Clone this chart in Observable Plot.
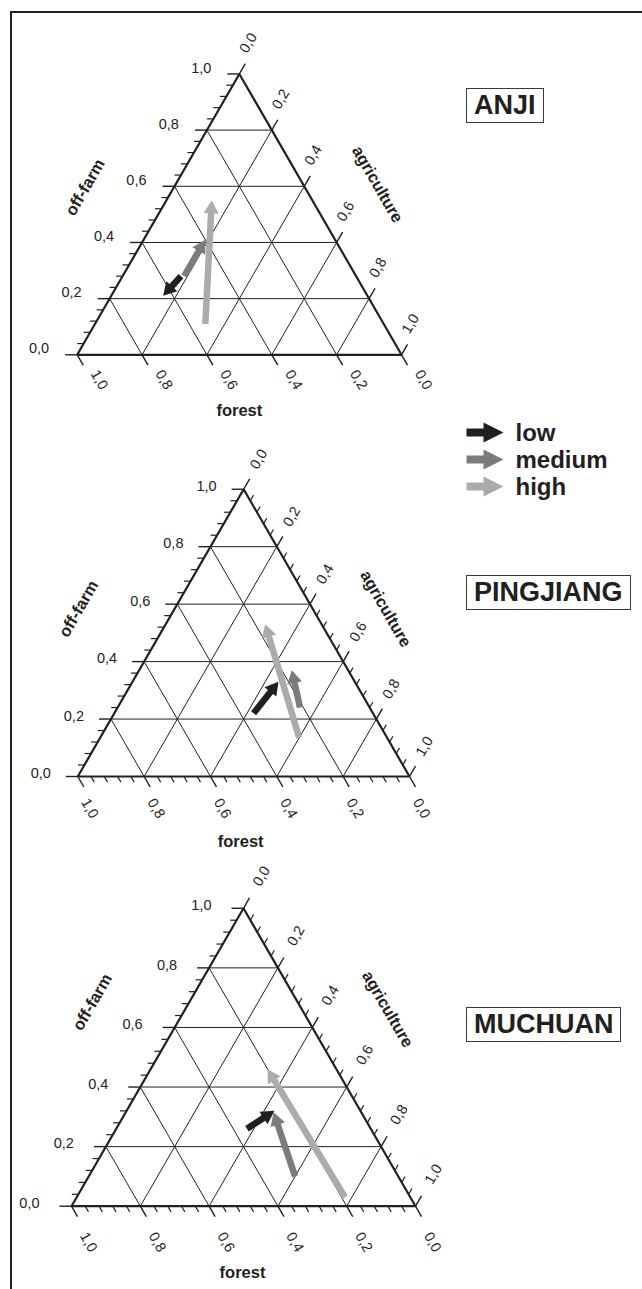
<!DOCTYPE html>
<html><head><meta charset="utf-8">
<script src="https://cdn.jsdelivr.net/npm/d3@7"></script>
<script src="https://cdn.jsdelivr.net/npm/@observablehq/plot@0.6"></script>
<style>
html,body{margin:0;padding:0;background:#fff;overflow:hidden;}
#page{position:relative;width:642px;height:1289px;overflow:hidden;font-family:"Liberation Sans",Arial,sans-serif;color:#231f20;}
.frame-top{position:absolute;left:10px;top:11px;width:632px;height:2px;background:#231f20;}
.frame-left{position:absolute;left:10px;top:11px;width:2px;height:1278px;background:#231f20;}
.site{position:absolute;border:1.5px solid #3a3a3a;font-weight:bold;font-size:27px;line-height:33px;padding:0 7px;color:#231f20;white-space:nowrap;}
.abs{position:absolute;}
</style></head>
<body><div id="page"><div class="frame-top"></div><div class="frame-left"></div></div>
<script>
// ---------- data ----------
const sites = ["ANJI", "PINGJIANG", "MUCHUAN"];
const levels = ["low", "medium", "high"];
const levelColors = ["#231f20", "#7b7b7b", "#ababab"];
const axisNames = ["off-farm", "forest", "agriculture"];
const gridValues = [0.2, 0.4, 0.6, 0.8];
const majorTicks = [0, 0.2, 0.4, 0.6, 0.8, 1.0];
const majorLabels = ["0,0", "0,2", "0,4", "0,6", "0,8", "1,0"];
const minorTicks = [0.04, 0.08, 0.12, 0.16, 0.24, 0.28, 0.32, 0.36, 0.44, 0.48,
                    0.52, 0.56, 0.64, 0.68, 0.72, 0.76, 0.84, 0.88, 0.92, 0.96];

// arrows (start -> end composition of each income group)
const arrowSite  = ["ANJI", "ANJI", "ANJI", "PINGJIANG", "PINGJIANG", "PINGJIANG", "MUCHUAN", "MUCHUAN", "MUCHUAN"];
const arrowLevel = ["low", "medium", "high", "low", "medium", "high", "low", "medium", "high"];
const offFarmStart     = [0.28, 0.28, 0.11, 0.22, 0.24, 0.135, 0.26, 0.10, 0.03];
const forestStart      = [0.54, 0.53, 0.55, 0.36, 0.21, 0.265, 0.36, 0.30, 0.19];
const agricultureStart = [0.18, 0.19, 0.34, 0.42, 0.55, 0.60, 0.38, 0.60, 0.78];
const offFarmEnd       = [0.21, 0.41, 0.55, 0.33, 0.37, 0.53, 0.32, 0.315, 0.46];
const forestEnd        = [0.63, 0.40, 0.31, 0.23, 0.17, 0.17, 0.25, 0.255, 0.20];
const agricultureEnd   = [0.16, 0.19, 0.14, 0.44, 0.46, 0.30, 0.43, 0.43, 0.34];

// ---------- layout ----------
const FONT = '"Liberation Sans", Arial, sans-serif';
const INK = "#231f20";
const layout = [
  {site: "ANJI", top: 0, h: 420, L: 76.7, R: 401, B: 354.3,
   minor: {left: true, bottom: false, right: false},
   leftLab: [-28, -6], bottomLab: [22, 25], rightLab: [9, -31],
   tOff: [-73, -27], tAgr: [57, -30], tFor: [0, 56], boxTop: 88},
  {site: "PINGJIANG", top: 420, h: 440, L: 77.3, R: 409, B: 776,
   minor: {left: true, bottom: true, right: true},
   leftLab: [-27, -3], bottomLab: [12, 32], rightLab: [15, -30],
   tOff: [-82, -24], tAgr: [59, -24], tFor: [-3, 65], boxTop: 575},
  {site: "MUCHUAN", top: 860, h: 429, L: 71, R: 415, B: 1205.7,
   minor: {left: true, bottom: true, right: true},
   leftLab: [-32, -3], bottomLab: [17, 36], rightLab: [18, -32],
   tOff: [-65, -55], tAgr: [58, -48], tFor: [-1, 67], boxTop: 1007}
];

const arrows = arrowSite.map((site, i) => ({
  site, level: arrowLevel[i],
  o0: offFarmStart[i], f0: forestStart[i], a0: agricultureStart[i],
  o1: offFarmEnd[i], f1: forestEnd[i], a1: agricultureEnd[i]
}));

const lineShape = {draw(ctx, l) { ctx.moveTo(0, 0); ctx.lineTo(0, -l); }};
const arrowShape = (shaft, headW, headL) => ({
  draw(ctx, l) {
    const s = shaft / 2, h = headW / 2, b = -(l - headL);
    ctx.moveTo(-s, 0); ctx.lineTo(-s, b); ctx.lineTo(-h, b); ctx.lineTo(0, -l);
    ctx.lineTo(h, b); ctx.lineTo(s, b); ctx.lineTo(s, 0); ctx.closePath();
  }
});

// ternary (off-farm o, agriculture a) -> cartesian (side 1, y = o)
const pt = (o, a) => ({x: a + o / 2, y: o});

function ternaryPanel(cfg) {
  const W = cfg.R - cfg.L;
  const Hpx = W * Math.sqrt(3) / 2;
  const base = cfg.B - cfg.top;

  const grid = [];
  for (const v of gridValues) {
    grid.push({p1: pt(v, 0), p2: pt(v, 1 - v)});       // off-farm = v
    grid.push({p1: pt(0, 1 - v), p2: pt(1 - v, 0)});   // forest = v
    grid.push({p1: pt(0, v), p2: pt(1 - v, v)});       // agriculture = v
  }
  const outline = [pt(0, 0.5), pt(0, 1), pt(1, 0), pt(0, 0), pt(0, 0.5)];

  const leftT = vals => vals.map(v => ({...pt(v, 0), rot: -90}));
  const bottomT = vals => vals.map(v => ({...pt(0, 1 - v), rot: 150}));
  const rightT = vals => vals.map(v => ({...pt(1 - v, v), rot: 30}));
  const majors = [...leftT(majorTicks), ...bottomT(majorTicks), ...rightT(majorTicks)];
  const minors = [
    ...(cfg.minor.left ? leftT(minorTicks) : []),
    ...(cfg.minor.bottom ? bottomT(minorTicks) : []),
    ...(cfg.minor.right ? rightT(minorTicks) : [])
  ];

  const lab = (f) => majorTicks.map((v, i) => ({...f(v), label: majorLabels[i]}));
  const leftLabels = lab(v => pt(v, 0));
  const bottomLabels = lab(v => pt(0, 1 - v));
  const rightLabels = lab(v => pt(1 - v, v));

  const arr = arrows.filter(d => d.site === cfg.site).map(d => {
    const s = pt(d.o0, d.a0), e = pt(d.o1, d.a1);
    const dx = (e.x - s.x) * W, dy = -(e.y - s.y) * Hpx;
    return {...s, level: d.level, len: Math.hypot(dx, dy), angle: Math.atan2(dx, -dy) * 180 / Math.PI};
  });

  const titles = [
    {...pt(0.5, 0), text: axisNames[0], rot: -60, d: cfg.tOff},
    {...pt(0, 0.5), text: axisNames[1], rot: 0, d: cfg.tFor},
    {...pt(0.5, 0.5), text: axisNames[2], rot: 60, d: cfg.tAgr}
  ];

  return Plot.plot({
    width: 642, height: cfg.h, margin: 0,
    style: {background: "transparent", fontFamily: FONT, color: INK, overflow: "visible"},
    x: {domain: [0, 1], range: [cfg.L, cfg.R], axis: null},
    y: {domain: [0, 1], range: [base, base - Hpx], axis: null},
    length: {type: "identity"},
    color: {domain: levels, range: levelColors},
    marks: [
      Plot.link(grid, {x1: d => d.p1.x, y1: d => d.p1.y, x2: d => d.p2.x, y2: d => d.p2.y, stroke: INK, strokeWidth: 1}),
      Plot.vector(majors, {x: "x", y: "y", rotate: "rot", length: 12, anchor: "start", shape: lineShape, stroke: INK, strokeWidth: 1.4, strokeLinecap: "butt"}),
      Plot.vector(minors, {x: "x", y: "y", rotate: "rot", length: 6.5, anchor: "start", shape: lineShape, stroke: INK, strokeWidth: 1.2, strokeLinecap: "butt"}),
      Plot.line(outline, {x: "x", y: "y", stroke: INK, strokeWidth: 2.2, strokeLinejoin: "miter"}),
      Plot.text(leftLabels, {x: "x", y: "y", text: "label", textAnchor: "end", dx: cfg.leftLab[0], dy: cfg.leftLab[1], fontSize: 14.5, fill: INK}),
      Plot.text(bottomLabels, {x: "x", y: "y", text: "label", rotate: 60, dx: cfg.bottomLab[0], dy: cfg.bottomLab[1], fontSize: 14.5, fill: INK}),
      Plot.text(rightLabels, {x: "x", y: "y", text: "label", rotate: -60, dx: cfg.rightLab[0], dy: cfg.rightLab[1], fontSize: 14.5, fill: INK}),
      ...titles.map(t => Plot.text([t], {x: "x", y: "y", text: "text", rotate: t.rot, dx: t.d[0], dy: t.d[1], fontSize: 16.5, fontWeight: "bold", fill: INK})),
      Plot.vector(arr, {x: "x", y: "y", length: "len", rotate: "angle", anchor: "start", shape: arrowShape(6.5, 15, 13), fill: "level", stroke: "none"})
    ]
  });
}

const page = document.getElementById("page");
for (const cfg of layout) {
  const svg = ternaryPanel(cfg);
  svg.classList.add("abs");
  svg.style.left = "0px";
  svg.style.top = cfg.top + "px";
  page.appendChild(svg);
  const box = document.createElement("div");
  box.className = "site";
  box.textContent = cfg.site;
  box.style.left = "466px";
  box.style.top = cfg.boxTop + "px";
  page.appendChild(box);
}

// legend
const legend = Plot.plot({
  width: 190, height: 90, margin: 0,
  style: {background: "transparent", fontFamily: FONT, color: INK, overflow: "visible"},
  x: {domain: [0, 1], range: [11, 48], axis: null},
  y: {type: "point", domain: levels, range: [14, 68], padding: 0, axis: null},
  color: {domain: levels, range: levelColors},
  marks: [
    Plot.vector(levels, {x: () => 0, y: d => d, length: 37, rotate: 90, anchor: "start", shape: arrowShape(8, 20, 20), fill: d => d, stroke: "none"}),
    Plot.text(levels, {x: () => 1, y: d => d, text: d => d, dx: 12, dy: 1, textAnchor: "start", fontSize: 24, fontWeight: "bold", fill: INK})
  ]
});
legend.classList.add("abs");
legend.style.left = "455px";
legend.style.top = "418px";
page.appendChild(legend);
</script>
</body></html>
